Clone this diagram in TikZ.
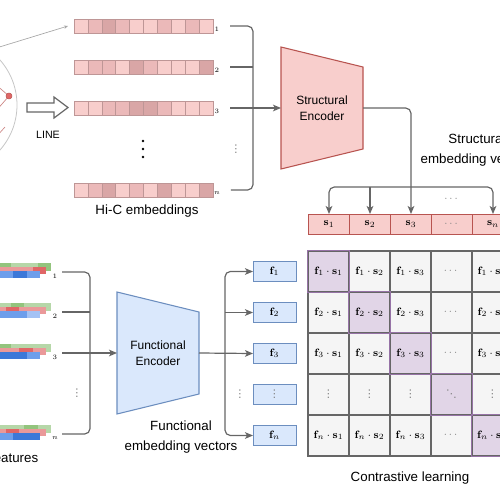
\documentclass[tikz,border=0pt]{standalone}
\usepackage[no-math]{fontspec}
\setsansfont{Liberation Sans}
\newfontfamily\dotsfont{DejaVu Sans}
\usepackage{amsmath}
\usetikzlibrary{arrows.meta, positioning, backgrounds, calc}
\definecolor{redfill}{HTML}{F8CECC}
\definecolor{redline}{HTML}{B85450}
\definecolor{bluefill}{HTML}{DAE8FC}
\definecolor{blueline}{HTML}{6C8EBF}
\definecolor{purpfill}{HTML}{E1D5E7}
\definecolor{purpline}{HTML}{9673A6}
\definecolor{cellfill}{HTML}{F5F5F5}
\definecolor{linkgray}{HTML}{666666}
\definecolor{hic0}{HTML}{F8CECC}
\definecolor{hic1}{HTML}{EBB9B9}
\definecolor{hic2}{HTML}{D9A6A6}
\definecolor{hicedge}{HTML}{BE9696}
\definecolor{ftg1}{HTML}{B6D7A8}
\definecolor{ftg2}{HTML}{93C47D}
\definecolor{ftr1}{HTML}{EA9999}
\definecolor{ftr2}{HTML}{E06666}
\definecolor{ftb1}{HTML}{A4C2F4}
\definecolor{ftb2}{HTML}{6D9EEB}
\definecolor{ftb3}{HTML}{3C78D8}
% compact dots as single glyphs
\newcommand{\myvdots}{{\dotsfont ⋮}}
\newcommand{\myddots}{{\dotsfont ⋱}}

\begin{document}
\begin{tikzpicture}[x=0.75pt, y=-0.75pt,
    link/.style={draw=linkgray, line width=0.9pt},
    arr/.style={-{Stealth[length=6pt, width=5pt, inset=1.5pt]}},
    hiccell/.style={draw=hicedge, line width=0.4pt},
    hicbar/.style={minimum width=104.25pt, minimum height=10.5pt, inner sep=0pt, outer sep=0pt},
    sbox/.style={rectangle, draw=redline, fill=redfill, line width=0.7pt, minimum width=30.75pt, minimum height=15pt, inner sep=0pt, outer sep=0pt, font=\footnotesize},
    fbox/.style={rectangle, draw=blueline, fill=bluefill, line width=0.7pt, minimum width=32.25pt, minimum height=15pt, inner sep=0pt, outer sep=0pt, font=\footnotesize},
    mcell/.style={rectangle, draw=linkgray, fill=cellfill, line width=0.8pt, minimum size=30.75pt, inner sep=0pt, font=\footnotesize},
    diagcell/.style={mcell, fill=purpfill},
    encoder/.style={minimum width=61.5pt, minimum height=91.5pt, inner sep=0pt, outer sep=0pt, align=center, font=\sffamily\fontsize{9}{12}\selectfont},
    rowlab/.style={inner sep=0.5pt, font=\tiny},
    dotlab/.style={inner sep=0pt, text=gray, font=\footnotesize},
    caption/.style={inner sep=0pt, align=center, font=\sffamily\fontsize{10}{15}\selectfont}
]
\useasboundingbox (0,0) rectangle (500,500);
\clip (0,0) rectangle (500,500);

% Graph (left edge)
\draw[gray!45, line width=0.6pt] (-51,105) circle (68);
\draw[redline!70, line width=0.5pt] (9,96) -- (-5,84);
\draw[redline!70, line width=0.5pt] (9,96) -- (-5,112);
\draw[redline!70, line width=0.5pt] (-4,137) -- (5,127);
\fill[ftr2, draw=redline, line width=0.4pt] (9,96) circle (3);

% LINE arrow
\draw[linkgray, line width=0.9pt, fill=white] (27,103) -- (54,103) -- (54,97) -- (68,107.5) -- (54,118) -- (54,112) -- (27,112) -- cycle;
\node[font=\sffamily\fontsize{8}{10}\selectfont] (linelab) at (48,135) {LINE};

% Hi-C embeddings
\foreach \lab/\yc/\pat in {1/26/{0,1,2,1,0,0,1,0,1,0}, 2/67/{0,1,1,0,2,1,0,0,0,2}, 3/108/{0,0,1,1,2,2,1,0,0,0}, n/190/{0,1,2,0,1,0,2,0,0,2}} {
  \node[hicbar] (hic\lab) at (143.5,\yc) {};
  \foreach \s [count=\i from 0] in \pat
    \draw[hiccell, fill=hic\s] (74+13.9*\i, \yc-7) rectangle ++(13.9,14);
  \node[rowlab] (hl\lab) at (217,\yc+3.5) {$\lab$};
}
\foreach \dy in {-8,0,8}
  \fill (143,149+\dy) circle (1.3);
\node[dotlab] (hldots) at (236,149) {\myvdots};
\node[caption] (hiccap) at (147,211) {Hi-C embeddings};
\draw[gray!70, line width=0.5pt, -{Stealth[length=3pt, width=2.5pt]}] (-12,50.5) -- ([xshift=-4.5pt]hic1.west);

% Structural encoder
\node[encoder] (senc) at (322,108) {Structural\\Encoder};
\begin{scope}[on background layer]
  \draw[redline, fill=redfill, line width=0.8pt] (senc.north west) -- ([yshift=-15pt]senc.north east) -- ([yshift=15pt]senc.south east) -- (senc.south west) -- cycle;
\end{scope}
\coordinate (hbus) at (253,108);
\draw[link, rounded corners=4pt] ([xshift=7.5pt]hl1.east |- hic1.east) -| (hbus) |- ([xshift=7.5pt]hln.east |- hicn.east);
\draw[link] ([xshift=7.5pt]hl2.east |- hic2.east) -- (hic2.east -| hbus);
\draw[link, arr] ([xshift=7.5pt]hl3.east |- hic3.east) -- (senc.west);

% Structural embedding vectors
\foreach \txt [count=\i] in {$\mathbf{s}_1$, $\mathbf{s}_2$, $\mathbf{s}_3$, {\textcolor{gray}{$\cdots$}}, $\mathbf{s}_n$}
  \node[sbox] (s\i) at (288+41*\i, 224) {\txt};
\draw[link, arr, rounded corners=4pt] (senc.east) -| (s3.north);
\coordinate (sfork) at (s3.north |- 0,187);
\draw[link, arr, rounded corners=4pt] (sfork) -| (s1.north);
\draw[link, arr, rounded corners=4pt] (sfork) -| (s5.north);
\draw[link, arr] (sfork -| s2.north) -- (s2.north);
\node[dotlab] (sdots) at (452,199) {$\cdots$};
\node[caption] (scap) at (477,150) {Structural\\embedding vectors};

% Functional features
\foreach \lab/\yc/\gpat/\rpat/\bpat in {1/272/{1,2,1,1,2}/{1,1,1,2}/{2,2,3,2}, 2/312/{1,1,2,1,1}/{1,2,1,1}/{2,2,2,1}, 3/353/{1,2,1,1,1}/{1,1,2,1}/{2,3,3,2}, n/434/{1,1,1,2,1}/{1,2,1,1}/{2,2,3,3}} {
  \foreach \s [count=\i from 0] in \gpat
    \fill[fill=ftg\s] (-15.5+13.3*\i, \yc-9) rectangle ++(13.4,8);
  \foreach \s [count=\i from 0] in \rpat
    \fill[fill=ftr\s] (-7.2+13.3*\i, \yc-5) rectangle ++(13.4,7);
  \foreach \s [count=\i from 0] in \bpat
    \fill[fill=ftb\s] (-13.2+13.3*\i, \yc-1) rectangle ++(13.4,7);
  \node[rowlab] (fl\lab) at (55,\yc+4) {$\lab$};
  \coordinate (ft\lab) at (62,\yc);
}
\node[dotlab] (fldots) at (77,393) {\myvdots};
\node[caption, anchor=east] (ftcap) at (38.5,458) {features};

% Functional encoder
\node[encoder] (fenc) at (158,353) {Functional\\Encoder};
\begin{scope}[on background layer]
  \draw[blueline, fill=bluefill, line width=0.8pt] (fenc.north west) -- ([yshift=-15pt]fenc.north east) -- ([yshift=15pt]fenc.south east) -- (fenc.south west) -- cycle;
\end{scope}
\coordinate (fbus) at (90,353);
\draw[link, rounded corners=4pt] (ft1) -| (fbus) |- (ftn);
\draw[link] (ft2) -- (ft2 -| fbus);
\draw[link, arr] (ft3) -- (fenc.west);

% Functional embedding vectors
\foreach \txt [count=\i] in {$\mathbf{f}_1$, $\mathbf{f}_2$, $\mathbf{f}_3$, {\textcolor{gray}{\myvdots}}, $\mathbf{f}_n$}
  \node[fbox] (f\i) at (274.5, 230.5+41*\i) {\txt};
\draw[link, arr] (fenc.east) -- (f3.west);
\coordinate (ffork) at (225,353);
\draw[link, arr, rounded corners=4pt] (ffork) |- (f1.west);
\draw[link, arr, rounded corners=4pt] (ffork) |- (f5.west);
\draw[link, arr] (ffork |- f2.west) -- (f2.west);
\node[dotlab] (fdots) at (240,394) {\myvdots};
\node[caption] (fcap) at (181,437) {Functional\\embedding vectors};

% Similarity matrix
\foreach \rowi [count=\r] in {1,2,3,4,n} {
  \foreach \colj [count=\c] in {1,2,3,4,n} {
    \ifnum\r=\c\relax \tikzset{thiscell/.style={diagcell}}\else\tikzset{thiscell/.style={mcell}}\fi
    \ifnum\r=4\relax
      \ifnum\c=4\relax \def\celltxt{\textcolor{gray}{\myddots}}\else\def\celltxt{\textcolor{gray}{\myvdots}}\fi
    \else
      \ifnum\c=4\relax \def\celltxt{\textcolor{gray}{$\cdots$}}\else\def\celltxt{$\mathbf{f}_{\rowi}\cdot\mathbf{s}_{\colj}$}\fi
    \fi
    \node[thiscell] (m\r\c) at (287.5+41*\c, 230.5+41*\r) {\celltxt};
  }
}
\foreach \k in {1,...,5}
  \draw[purpline, line width=0.8pt] (m\k\k.south west) rectangle (m\k\k.north east);
\node[caption] (ccap) at (410,478) {Contrastive learning};

\end{tikzpicture}
\end{document}
